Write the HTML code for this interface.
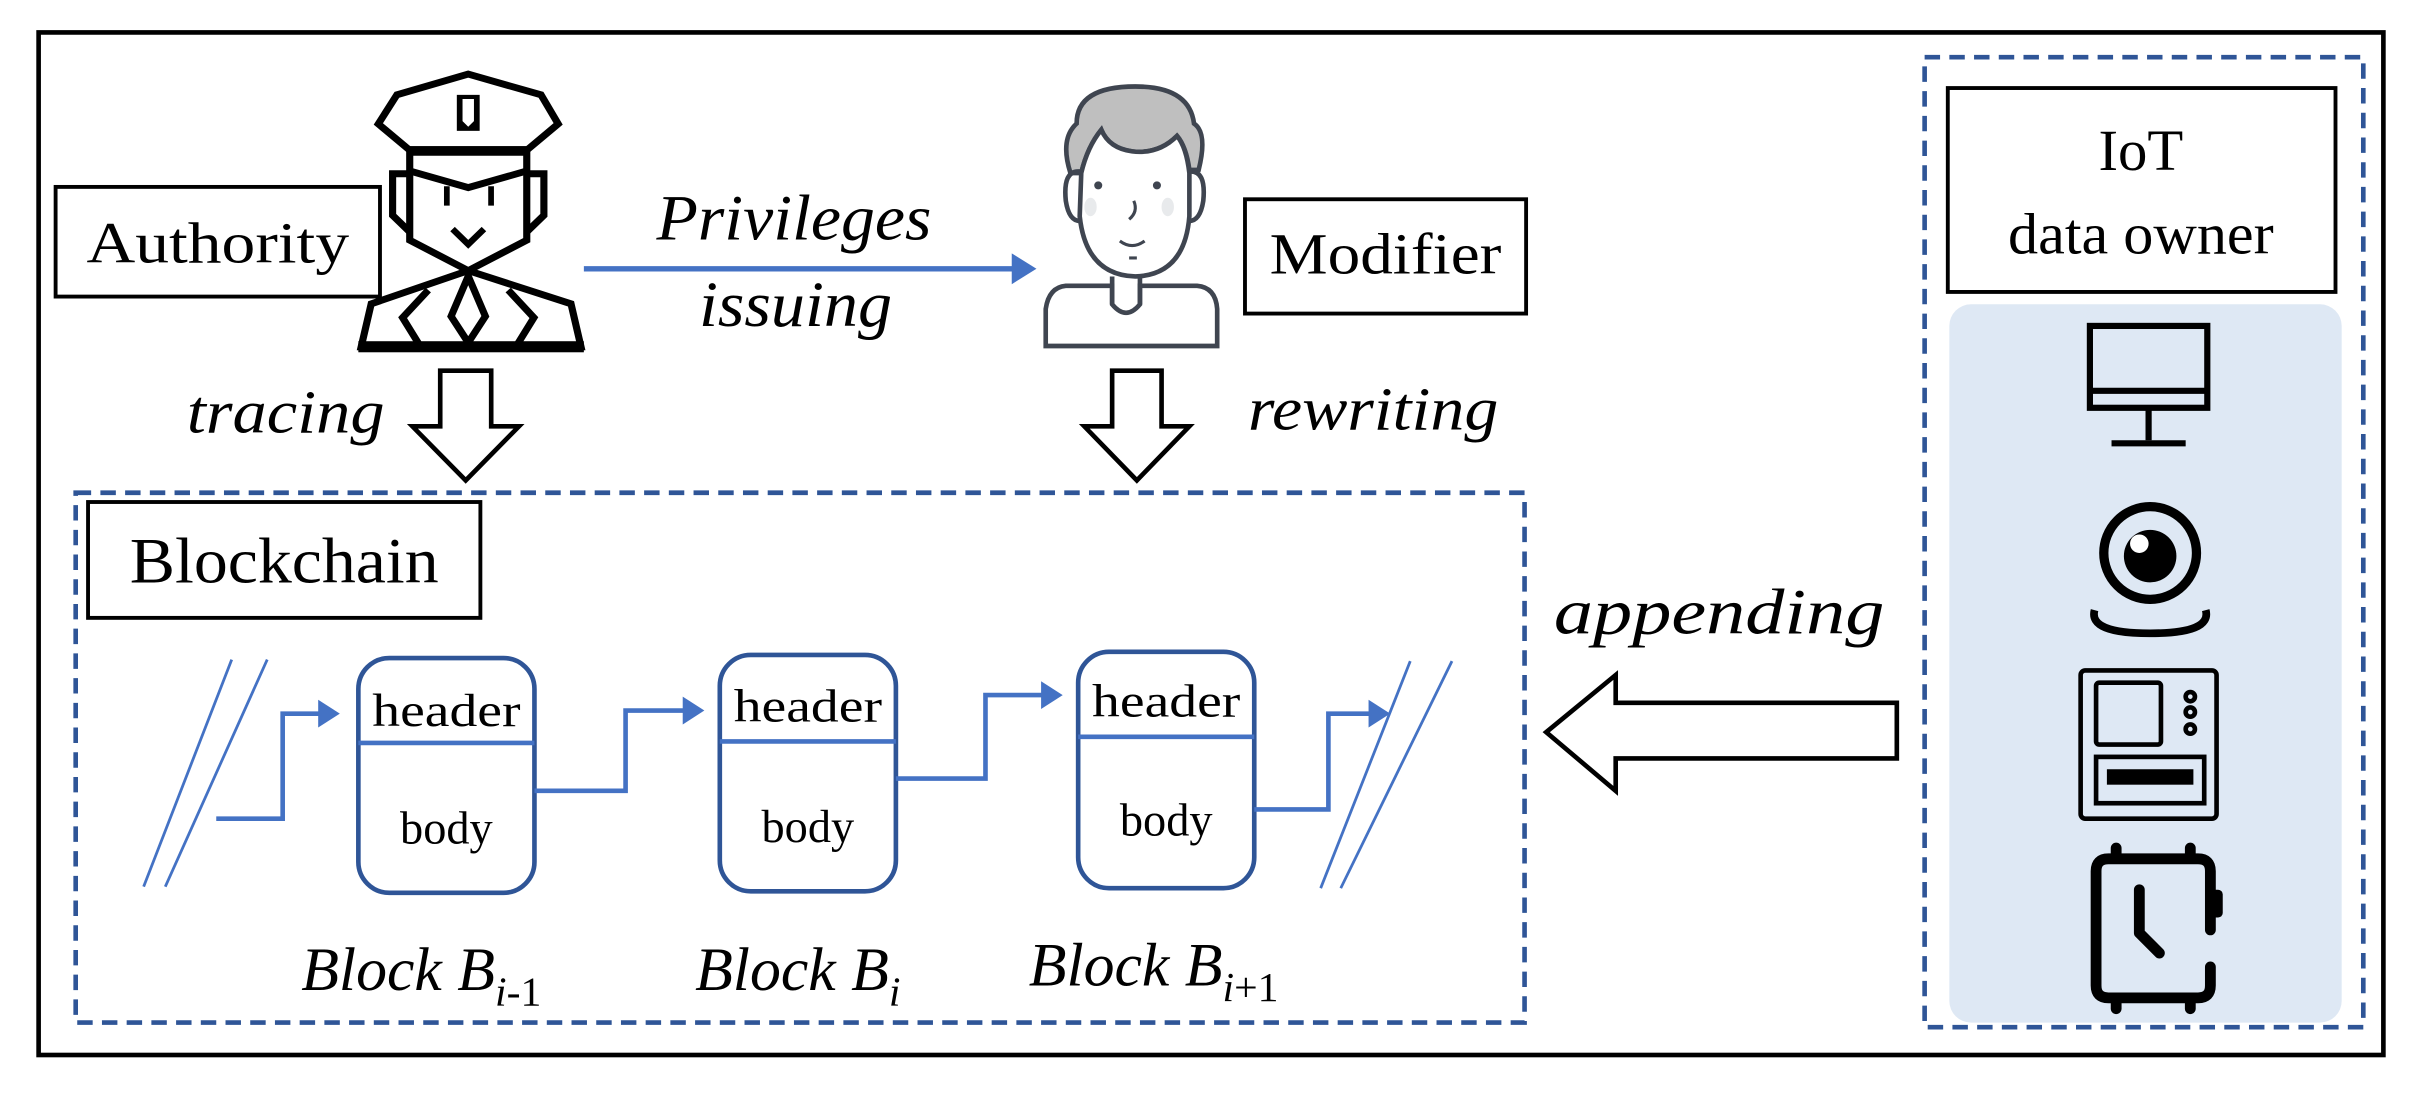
<!DOCTYPE html>
<html><head><meta charset="utf-8"><style>
html,body{margin:0;padding:0;background:#fff}
svg{display:block}
text{font-family:"Liberation Serif",serif}
</style></head><body>
<svg width="2422" height="1093" viewBox="0 0 1568 707.6" preserveAspectRatio="none" xmlns="http://www.w3.org/2000/svg">
<rect x="0" y="0" width="1568" height="708" fill="#fff"/>
<rect x="25" y="21" width="1518" height="662" fill="none" stroke="#000" stroke-width="3"/>

<!-- Authority -->
<rect x="36" y="121" width="210" height="71" fill="none" stroke="#000" stroke-width="2.5"/>
<text x="141" y="170" font-size="38" text-anchor="middle" textLength="170" lengthAdjust="spacingAndGlyphs">Authority</text>

<!-- policeman -->
<g transform="matrix(0.924,0,0,0.896,16.7,19.3)">
<g fill="none" stroke="#000" stroke-width="5" stroke-linejoin="miter">
<path d="M310,32 L260,47 L247,68 L269,87 L351,87 L373,68 L361,47 Z"/>
<path d="M269,87 L269,152 L310,174 L351,152 L351,87"/>
<path d="M269,102 L310,114 L351,102"/>
<path d="M269,104 L257,104 L257,134 L269,146 M351,104 L363,104 L363,134 L351,146"/>
<path d="M310,174 L242,198 L235,229 L389,229 L382,198 Z"/>
<path d="M310,178 L298,207 L310,226 L322,207 Z"/>
<path d="M282,188 L264,208 L276,228 M338,188 L356,208 L344,228"/>
</g>
<rect x="268" y="84" width="84" height="7" fill="#000"/>
<rect x="302" y="47" width="16" height="26" fill="#000"/>
<path d="M306,50 L314,50 L314,66 L310,70 L306,66 Z" fill="#fff"/>
<path d="M295,113 v14 M326,113 v14" stroke="#000" stroke-width="4"/>
<path d="M299,144 L310,155 L321,144" stroke="#000" stroke-width="4.5" fill="none"/>
<rect x="233" y="225" width="158" height="8" fill="#000"/>
</g>

<!-- privileges -->
<text x="514" y="155" font-size="42" font-style="italic" text-anchor="middle" textLength="178" lengthAdjust="spacingAndGlyphs">Privileges</text>
<text x="515" y="211" font-size="42" font-style="italic" text-anchor="middle" textLength="125" lengthAdjust="spacingAndGlyphs">issuing</text>
<line x1="378" y1="174" x2="656" y2="174" stroke="#4472C4" stroke-width="3.5"/>
<path d="M655,164 L671,174 L655,184 Z" fill="#4472C4"/>

<!-- modifier face -->
<g stroke="#3f4550" stroke-width="3" fill="none">
<path d="M693,112 Q686,90 697,80 Q697,56 735,56 Q770,56 773,80 Q782,86 776,110 L770,110 Q768,95 762,88 Q750,100 733,98 Q718,96 713,84 Q704,95 700,112 Z" fill="#bfbfbf"/>
<path d="M700,112 Q704,95 713,84 Q718,96 733,98 Q750,100 762,88 Q768,95 770,112 L770,140 Q767,178 735,179 Q703,178 699,140 Z" fill="#fff"/>
<path d="M699,111 Q688,110 690,130 Q692,143 699,143 M770,111 Q781,110 779,130 Q777,143 770,143"/>
<path d="M677,224 L677,200 Q679,186 690,185 L720,185 L720,197 Q729,208 738,197 L738,185 L775,185 Q787,186 788,200 L788,224 Z" fill="#fff"/>
<path d="M720,179 L720,197 M738,179 L738,197"/>
</g>
<path d="M725,156 Q733,162 741,156" stroke="#3f4550" stroke-width="2" fill="none"/>
<line x1="731" y1="167" x2="736" y2="167" stroke="#3f4550" stroke-width="2"/>
<circle cx="711" cy="120" r="2.6" fill="#3f4550"/><circle cx="749" cy="120" r="2.6" fill="#3f4550"/>
<ellipse cx="706" cy="134" rx="4" ry="6" fill="#e8eaec"/><ellipse cx="756" cy="134" rx="4" ry="6" fill="#e8eaec"/>
<path d="M734,130 Q737,137 731,142" stroke="#3f4550" stroke-width="2" fill="none"/>

<rect x="806" y="129" width="182" height="74" fill="none" stroke="#000" stroke-width="2.5"/>
<text x="897" y="177" font-size="38" text-anchor="middle" textLength="150" lengthAdjust="spacingAndGlyphs">Modifier</text>

<!-- down arrows -->
<path d="M285,240 L318,240 L318,276 L336,276 L301.5,311 L267,276 L285,276 Z" fill="#fff" stroke="#000" stroke-width="3"/>
<path d="M720,240 L752,240 L752,276 L770,276 L736,311 L702,276 L720,276 Z" fill="#fff" stroke="#000" stroke-width="3"/>
<text x="185" y="280" font-size="40" font-style="italic" text-anchor="middle" textLength="128" lengthAdjust="spacingAndGlyphs">tracing</text>
<text x="889" y="278" font-size="40" font-style="italic" text-anchor="middle" textLength="162" lengthAdjust="spacingAndGlyphs">rewriting</text>

<!-- blockchain box -->
<rect x="49" y="319" width="938" height="343" fill="none" stroke="#2F5597" stroke-width="3" stroke-dasharray="10,6"/>
<rect x="57" y="325" width="254" height="75" fill="none" stroke="#000" stroke-width="2.5"/>
<text x="184" y="377" font-size="42" text-anchor="middle" textLength="200" lengthAdjust="spacingAndGlyphs">Blockchain</text>

<g fill="none" stroke="#2F5597" stroke-width="3">
<rect x="232" y="426" width="114" height="152" rx="20"/>
<rect x="466" y="424" width="114" height="153" rx="20"/>
<rect x="698" y="422" width="114" height="153" rx="20"/>
</g>
<g stroke="#4472C4" stroke-width="3" fill="none">
<line x1="232" y1="481" x2="346" y2="481"/>
<line x1="466" y1="480" x2="580" y2="480"/>
<line x1="698" y1="477" x2="812" y2="477"/>
<path d="M140,530 L183,530 L183,462 L208,462"/>
<path d="M346,512 L405,512 L405,460 L444,460"/>
<path d="M580,504 L638,504 L638,450 L676,450"/>
<path d="M812,524 L860,524 L860,462 L888,462"/>
</g>
<g stroke="#4472C4" stroke-width="1.8">
<line x1="93" y1="574" x2="150" y2="427"/><line x1="107" y1="574" x2="173" y2="427"/>
<line x1="855" y1="575" x2="913" y2="428"/><line x1="868" y1="575" x2="940" y2="428"/>
</g>
<g fill="#4472C4">
<path d="M206,453 L220,462 L206,471 Z"/>
<path d="M442,451 L456,460 L442,469 Z"/>
<path d="M674,441 L688,450 L674,459 Z"/>
<path d="M886,453 L900,462 L886,471 Z"/>
</g>
<text x="289" y="470" font-size="30" text-anchor="middle" textLength="96" lengthAdjust="spacingAndGlyphs">header</text>
<text x="289" y="546" font-size="30" text-anchor="middle">body</text>
<text x="523" y="467" font-size="30" text-anchor="middle" textLength="96" lengthAdjust="spacingAndGlyphs">header</text>
<text x="523" y="545" font-size="30" text-anchor="middle">body</text>
<text x="755" y="464" font-size="30" text-anchor="middle" textLength="96" lengthAdjust="spacingAndGlyphs">header</text>
<text x="755" y="541" font-size="30" text-anchor="middle">body</text>

<text x="195" y="641" font-size="40" font-style="italic">Block B<tspan font-size="27" dy="10">i</tspan><tspan font-size="27" font-style="normal">-1</tspan></text>
<text x="450" y="641" font-size="40" font-style="italic">Block B<tspan font-size="27" dy="10">i</tspan></text>
<text x="666" y="638" font-size="40" font-style="italic">Block B<tspan font-size="27" dy="10">i</tspan><tspan font-size="27" font-style="normal">+1</tspan></text>

<!-- appending -->
<text x="1113" y="410" font-size="42" font-style="italic" text-anchor="middle" textLength="214" lengthAdjust="spacingAndGlyphs">appending</text>
<path d="M1228,455 L1228,491 L1046,491 L1046,512 L1001,474 L1046,437 L1046,455 Z" fill="#fff" stroke="#000" stroke-width="3"/>

<!-- IoT -->
<rect x="1246" y="37" width="284" height="628" fill="none" stroke="#2F5597" stroke-width="3" stroke-dasharray="10,6"/>
<rect x="1261" y="57" width="251" height="132" fill="none" stroke="#000" stroke-width="2.5"/>
<text x="1386" y="110" font-size="38" text-anchor="middle">IoT</text>
<text x="1386" y="164" font-size="38" text-anchor="middle" textLength="172" lengthAdjust="spacingAndGlyphs">data owner</text>
<rect x="1262" y="197" width="254" height="465" rx="14" fill="#DEE8F4"/>

<!-- monitor -->
<g stroke="#000" fill="none" stroke-width="4">
<rect x="1353" y="211" width="76" height="53"/>
<line x1="1353" y1="253" x2="1429" y2="253"/>
<line x1="1391" y1="264" x2="1391" y2="285"/>
<line x1="1367" y1="287" x2="1415" y2="287"/>
</g>
<!-- webcam -->
<circle cx="1392" cy="358" r="30" fill="none" stroke="#000" stroke-width="6"/>
<circle cx="1392" cy="360" r="17" fill="#000"/>
<circle cx="1385" cy="352" r="6" fill="#fff"/>
<path d="M1356,395 Q1352,410 1392,410 Q1432,410 1428,395" fill="none" stroke="#000" stroke-width="5"/>
<!-- device -->
<g stroke="#000" fill="none" stroke-width="3">
<rect x="1347" y="434" width="88" height="96" rx="3"/>
<rect x="1357" y="442" width="42" height="40" rx="2"/>
<rect x="1357" y="490" width="70" height="30"/>
<circle cx="1418" cy="451" r="3"/><circle cx="1418" cy="461" r="3"/><circle cx="1418" cy="472" r="3"/>
</g>
<rect x="1364" y="498" width="56" height="10" fill="#000"/>
<!-- watch -->
<g stroke="#000" fill="none" stroke-width="7" stroke-linecap="round" stroke-linejoin="round">
<path d="M1431,602 L1431,564 Q1431,556 1423,556 L1365,556 Q1357,556 1357,564 L1357,638 Q1357,646 1365,646 L1423,646 Q1431,646 1431,638 L1431,626"/>
<line x1="1370" y1="549" x2="1370" y2="553"/><line x1="1418" y1="549" x2="1418" y2="553"/>
<line x1="1370" y1="649" x2="1370" y2="653"/><line x1="1418" y1="649" x2="1418" y2="653"/>
<path d="M1385,576 L1385,604 L1398,617"/>
</g>
<rect x="1429" y="576" width="10" height="18" rx="3" fill="#000"/>
</svg>
</body></html>
